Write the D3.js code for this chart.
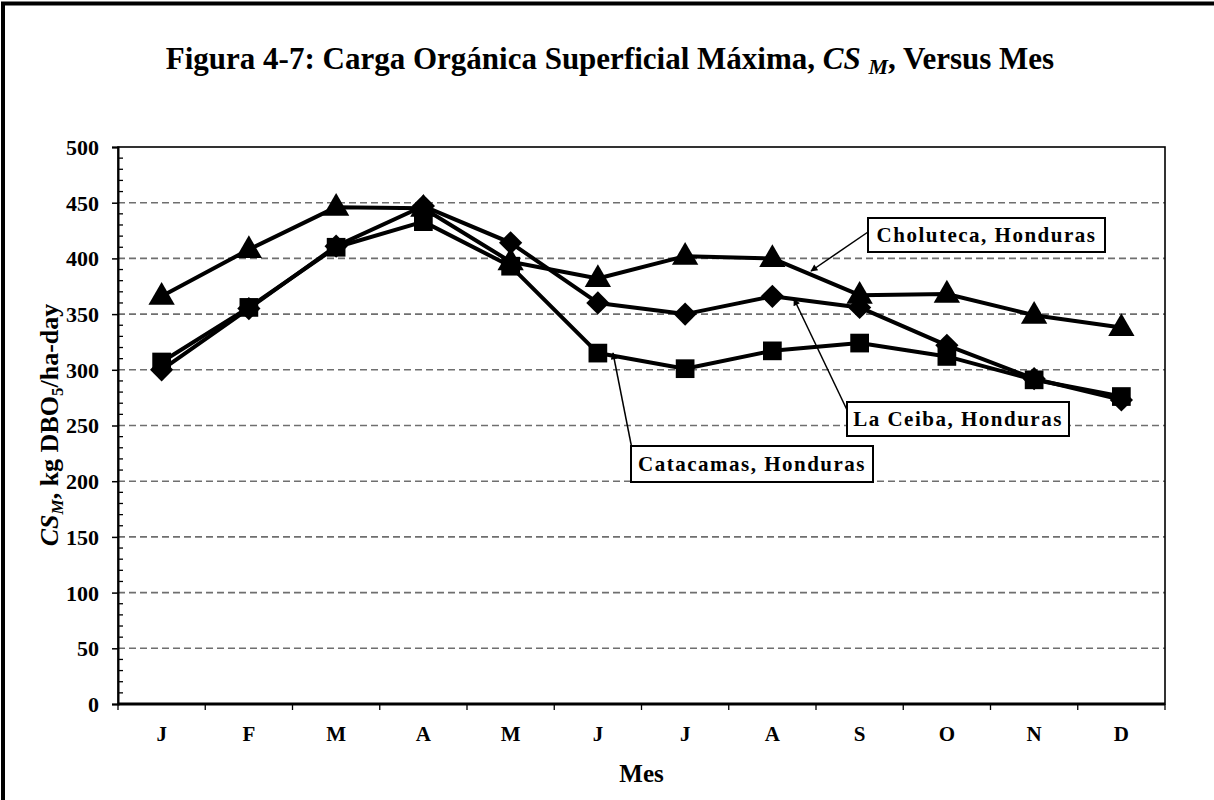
<!DOCTYPE html>
<html>
<head>
<meta charset="utf-8">
<script src="https://cdn.jsdelivr.net/npm/d3@7"></script>
<style>
  html, body { margin: 0; padding: 0; background: #fff; }
  svg { display: block; }
  text { font-family: "Liberation Serif", "Times New Roman", serif; font-weight: bold; fill: #000; }
</style>
</head>
<body>
<script>
// ---- Data ----
const months = ["J", "F", "M", "A", "M", "J", "J", "A", "S", "O", "N", "D"];
const yTicks = [0, 50, 100, 150, 200, 250, 300, 350, 400, 450, 500];
const catacamas = [307, 356, 410, 433, 393, 315, 301, 317, 324, 312, 291, 276];
const laCeiba   = [300, 355, 411, 447, 414, 360, 350, 366, 356, 322, 292, 273];
const choluteca = [366, 408, 446, 445, 397, 382, 402, 400, 367, 368, 349, 338];
const seriesNames = ["Catacamas, Honduras", "La Ceiba, Honduras", "Choluteca, Honduras"];

// ---- Layout ----
const W = 1214, H = 800;
const plot = { left: 118, right: 1165, top: 147, bottom: 704 };

const svg = d3.select("body").append("svg").attr("width", W).attr("height", H);

// outer frame (extends beyond right/bottom edges)
svg.append("rect").attr("x", 3).attr("y", 3.5).attr("width", W + 40).attr("height", H + 40)
  .attr("fill", "#fff").attr("stroke", "#000").attr("stroke-width", 4);

const x = d3.scaleBand().domain(d3.range(months.length)).range([plot.left, plot.right]).padding(0);
const y = d3.scaleLinear().domain([0, 500]).range([plot.bottom, plot.top]);
const cx = i => x(i) + x.bandwidth() / 2;

// gridlines
svg.append("g").selectAll("line").data(yTicks.filter(t => t > 0 && t < 500)).join("line")
  .attr("x1", plot.left).attr("x2", plot.right)
  .attr("y1", d => y(d)).attr("y2", d => y(d))
  .attr("stroke", "#6f6f6f").attr("stroke-width", 1.6).attr("stroke-dasharray", "7,4");

// plot border
svg.append("rect").attr("x", plot.left).attr("y", plot.top)
  .attr("width", plot.right - plot.left).attr("height", plot.bottom - plot.top)
  .attr("fill", "none").attr("stroke", "#000").attr("stroke-width", 1.6);

// y axis
const yAxis = d3.axisLeft(y).tickValues(yTicks).tickSize(6).tickPadding(13);
const gy = svg.append("g").attr("transform", `translate(${plot.left},0)`).call(yAxis);
gy.select(".domain").attr("stroke-width", 2);
gy.selectAll(".tick line").attr("stroke-width", 1.5);
gy.selectAll("text").style("font-size", "22px").attr("dy", "0.34em");
// minor ticks (inside)
svg.append("g").selectAll("line").data(d3.range(0, 501, 10).filter(v => v % 50 !== 0)).join("line")
  .attr("x1", plot.left).attr("x2", plot.left + 5)
  .attr("y1", d => y(d)).attr("y2", d => y(d))
  .attr("stroke", "#000").attr("stroke-width", 1.3);

// x axis
const gx = svg.append("g").attr("transform", `translate(0,${plot.bottom})`);
gx.append("line").attr("x1", plot.left).attr("x2", plot.right).attr("y1", 0).attr("y2", 0)
  .attr("stroke", "#000").attr("stroke-width", 3);
gx.selectAll("line.tk").data(d3.range(months.length + 1)).join("line").attr("class", "tk")
  .attr("x1", i => plot.left + i * x.bandwidth()).attr("x2", i => plot.left + i * x.bandwidth())
  .attr("y1", 0).attr("y2", 6).attr("stroke", "#000").attr("stroke-width", 1.3);
gx.selectAll("text").data(months).join("text")
  .attr("x", (d, i) => cx(i)).attr("y", 37)
  .attr("text-anchor", "middle").style("font-size", "21px").text(d => d);

// axis titles
svg.append("text").attr("x", (plot.left + plot.right) / 2).attr("y", 782)
  .attr("text-anchor", "middle").style("font-size", "25px").text("Mes");

const yl = svg.append("text").attr("transform", `translate(58,425) rotate(-90)`)
  .attr("text-anchor", "middle").style("font-size", "26px");
yl.append("tspan").style("font-style", "italic").text("CS");
yl.append("tspan").style("font-style", "italic").style("font-size", "17px").attr("dy", 5).text("M");
yl.append("tspan").attr("dy", -5).text(", kg DBO");
yl.append("tspan").style("font-size", "17px").attr("dy", 5).text("5");
yl.append("tspan").attr("dy", -5).text("/ha-day");

// title
const title = svg.append("text").attr("x", 610).attr("y", 69)
  .attr("text-anchor", "middle").style("font-size", "31px");
title.append("tspan").text("Figura 4-7: Carga Orgánica Superficial Máxima, ");
title.append("tspan").style("font-style", "italic").text("CS ");
title.append("tspan").style("font-style", "italic").style("font-size", "22px").attr("dy", 5).text("M");
title.append("tspan").attr("dy", -5).text(", Versus Mes");

// lines
const line = d3.line().x((d, i) => cx(i)).y(d => y(d));
const allSeries = [
  { name: seriesNames[0], values: catacamas, marker: "square" },
  { name: seriesNames[1], values: laCeiba, marker: "diamond" },
  { name: seriesNames[2], values: choluteca, marker: "triangle" }
];
allSeries.forEach(s => {
  svg.append("path").datum(s.values).attr("d", line)
    .attr("fill", "none").attr("stroke", "#000").attr("stroke-width", 4).attr("stroke-linejoin", "round");
});
const symbols = {
  square: { gen: d3.symbol().type(d3.symbolSquare).size(350), rot: 0, dy: 0 },
  diamond: { gen: d3.symbol().type(d3.symbolSquare).size(270), rot: 45, dy: 0 },
  triangle: { gen: d3.symbol().type(d3.symbolTriangle).size(300), rot: 0, dy: 1 }
};
allSeries.forEach(s => {
  const m = symbols[s.marker];
  svg.append("g").selectAll("path").data(s.values).join("path")
    .attr("transform", (d, i) => `translate(${cx(i)},${y(d) + m.dy}) rotate(${m.rot})`)
    .attr("d", m.gen()).attr("fill", "#000");
});

// annotations
svg.append("defs").append("marker").attr("id", "arr").attr("viewBox", "0 0 10 10")
  .attr("refX", 9).attr("refY", 5).attr("markerWidth", 9).attr("markerHeight", 7)
  .attr("markerUnits", "userSpaceOnUse").attr("orient", "auto")
  .append("path").attr("d", "M0,0 L10,5 L0,10 Z").attr("fill", "#000");

const notes = [
  { text: seriesNames[2], box: [868, 218, 237, 34], from: [868, 232], to: [811, 271] },
  { text: seriesNames[1], box: [847, 402, 222, 34], from: [848, 412], to: [794, 299] },
  { text: seriesNames[0], box: [631, 446, 242, 36], from: [632, 449], to: [613, 353] }
];
notes.forEach(n => {
  svg.append("line").attr("x1", n.from[0]).attr("y1", n.from[1]).attr("x2", n.to[0]).attr("y2", n.to[1])
    .attr("stroke", "#000").attr("stroke-width", 1.5).attr("marker-end", "url(#arr)");
  svg.append("rect").attr("x", n.box[0]).attr("y", n.box[1]).attr("width", n.box[2]).attr("height", n.box[3])
    .attr("fill", "#fff").attr("stroke", "#000").attr("stroke-width", 2);
  svg.append("text").attr("x", n.box[0] + n.box[2] / 2).attr("y", n.box[1] + n.box[3] / 2 + 7)
    .attr("text-anchor", "middle").style("font-size", "21px").style("letter-spacing", "1.5px").text(n.text);
});
</script>
</body>
</html>
